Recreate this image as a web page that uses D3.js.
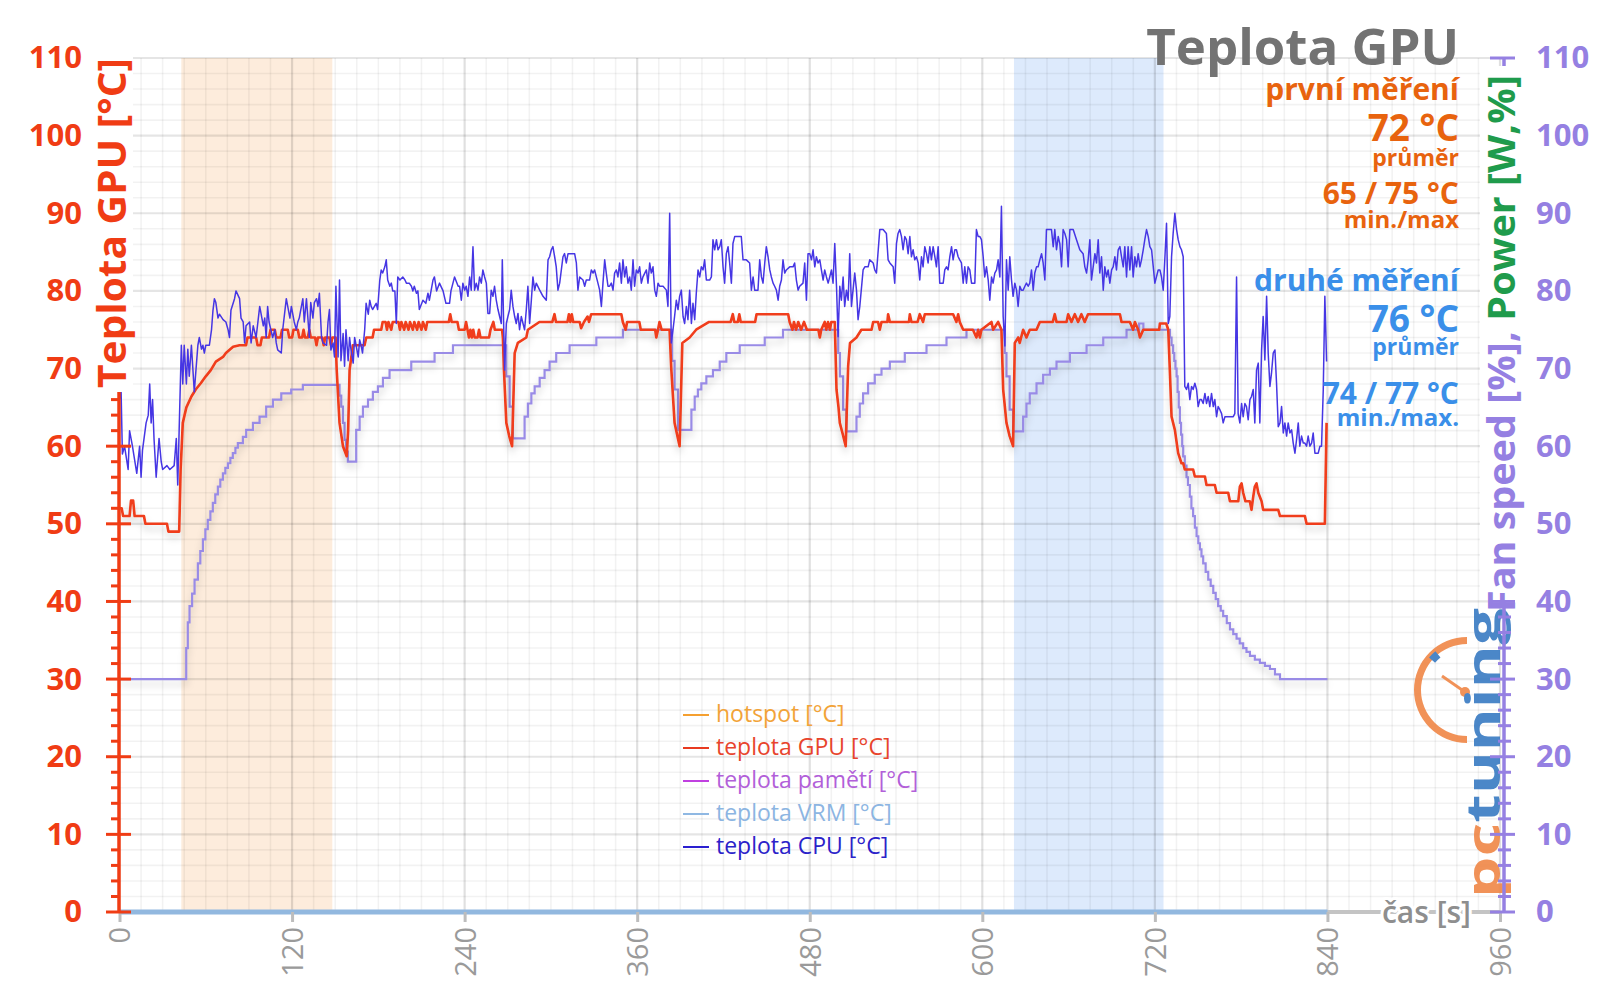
<!DOCTYPE html>
<html><head><meta charset="utf-8">
<script src="https://cdn.jsdelivr.net/npm/d3@7"></script>
<style>body{margin:0;background:#fff}svg{display:block}text{font-family:"Open Sans",sans-serif}</style>
</head><body><svg id="c" width="1600" height="1008"></svg>
<script>
// ---------- DATA ----------
const xTicks=[0,120,240,360,480,600,720,840,960];
const yTicks=[0,10,20,30,40,50,60,70,80,90,100,110];
const orangeBand=[43,148];
const blueBand=[622,726];
const legendLabels=["hotspot [°C]","teplota GPU [°C]","teplota pamětí [°C]","teplota VRM [°C]","teplota CPU [°C]"];
const titleText="Teplota GPU";
const firstRun=["první měření","72 °C","průměr","65 / 75 °C","min./max"];
const secondRun=["druhé měření","76 °C","průměr","74 / 77 °C","min./max."];
const leftAxisTitle="Teplota GPU [°C]";
const rightAxisTitleA="Fan speed [%], ";
const rightAxisTitleB="Power [W,%]";
const xAxisTitle="čas [s]";

const vrmSeries=[[0,0],[840,0]];

const gpuSeries=[[0,52],[1.5,52],[2.5,51],[7,51],[8,53],[9.5,53],[10.5,51],[17,51],[18,50],[33,50],[34,49],[41.5,49],[42.5,57],[44,63],[46.5,65],[50,66.4],[53,67.3],[56.5,68.1],[60,69],[63.5,69.8],[67,70.9],[72,71.5],[74,72],[79,72.8],[83.5,73],[88,73],[89,74],[95,74],[96,73],[98,73],[99,74],[104,74],[105,75],[108,75],[109,74],[112,74],[113,75],[117,75],[118,74],[120,74],[121,75],[124,75],[125,74],[127,74],[128,75],[129,74],[131,74],[132,75],[133,74],[136,74],[137,73],[138,74],[141,74],[142,73],[143,74],[146,74],[147,73],[148,74],[150.3,74],[151,70],[153,63],[155.4,60],[158,58.7],[159,62],[160,69.8],[162.3,73],[170.4,73],[171.6,74],[176,74],[177,75],[182,75],[183,76],[185,76],[186,75],[187,76],[189,75],[190,76],[194,76],[195,75],[196,76],[198,75],[199,76],[201,75],[202,76],[204,75],[205,76],[207,75],[208,76],[210,75],[211,76],[213,75],[214,76],[229,76],[230,77],[231,76],[235,76],[236,75],[240,75],[241,76],[242,75],[243,74],[244,75],[245,74],[246,75],[247,74],[249,74],[250,75],[251,74],[257,74],[258,75],[260,76],[261,75],[266,75],[266.6,74],[267.3,70],[269,63],[271,61.3],[273,60],[274.8,72],[277,73.3],[282.9,74],[284,75],[292,76],[301,76],[302.5,77],[303.5,76],[311.5,76],[312.5,77],[313.5,76],[314.5,77],[315.5,76],[320,76],[321,75.2],[323,76],[325.5,76.7],[326.5,76],[328,77],[349,77],[350,76],[352,75],[353,76],[361.5,76],[362.5,75],[372.5,75],[373.3,74],[374.5,75],[375.5,76],[377,75],[382.5,75],[383.7,70],[386,63],[389.5,60],[391.4,73.3],[396.5,74],[401,75],[410,76],[425,76],[426.5,77],[427.5,76],[430,76],[431,77],[432,76],[442,76],[443,77],[465,77],[466,76],[468,75],[469,76],[470.5,75],[472,76],[474,75],[476,76],[478,75],[486,75],[487,74],[488,75],[490.4,76],[491.5,75],[492.7,76],[494,75],[495,76],[497.4,76],[498.6,67.3],[500,65],[500.9,63],[503,61.5],[505,60],[506.7,70.3],[508,73.3],[512.5,74],[515.9,75],[523,75],[524.1,76],[527.5,76],[528.7,75],[529.9,76],[534,76],[534.5,77],[535.7,76],[549,76],[549.6,77],[550.7,76],[555,76],[556.5,77],[558.8,76],[560,77],[579.7,77],[582,76],[583.2,77],[584.3,76],[586.7,75],[593.5,75],[595.9,74],[597.1,75],[598.3,74],[599.4,75],[606.4,76],[607.5,75],[611,76],[613.3,75],[614.5,67.3],[616.8,63],[619,61.3],[621.4,60],[622.6,73.3],[625,74],[626,73.3],[628.4,75],[630.7,74],[633,75],[637.7,75],[640,76],[649,76],[650.4,77],[651.6,76],[658.6,76],[659.7,77],[662,76],[664.3,77],[666.6,76],[668.9,77],[671.2,76],[673.5,77],[677.1,77],[695.7,77],[696.8,76],[702.6,76],[704.9,75],[706.1,76],[708.4,75],[709.6,74],[711.9,75],[723,75],[723.5,75.8],[727.9,75.8],[729.3,75],[730.4,69.8],[731.6,63.8],[733.9,62.1],[736.2,59.1],[738.5,57.8],[739.7,57.8],[740.8,57],[746.6,57],[747.8,56.1],[754.8,56.1],[755.9,55],[761.7,55],[762.9,54],[771,54],[772.2,52.9],[778,52.9],[779.1,54.8],[780.3,55.2],[781.4,54],[783,52.9],[786,52.9],[787.2,51.8],[788.4,53.5],[789.5,54.8],[790.7,55.2],[791.9,54],[794.2,52.9],[795.3,51.8],[805.8,51.8],[807,51],[824.3,51],[825.5,50],[838.2,50],[839.4,63]];

const fanSeries=[[0,30],[45.2,30],[46.4,34],[47.5,37.3],[48.7,39.4],[50.5,41],[52.2,42.8],[54.5,44.9],[56.2,46.5],[58,48],[59.7,49.3],[61.4,50.5],[63.2,51.6],[64.9,52.7],[66.6,53.8],[68.4,54.8],[70.1,55.7],[71.9,56.5],[73.6,57.2],[75.4,57.8],[77.1,58.5],[78.8,59.1],[80.6,59.8],[82.3,60.4],[85.8,61.2],[88.1,62.1],[92.8,63],[97.4,63.8],[102,65.1],[106.7,66],[112.5,66.8],[119.4,67.3],[127.5,67.9],[151.9,67.9],[153,66.5],[154.2,65.1],[155.4,63],[156.5,60.8],[157.6,59.3],[158.8,58],[164.6,62.1],[167,63.8],[169.3,65.1],[172.8,66],[176.2,67],[179.7,67.7],[183.2,68.8],[187.8,69.8],[202.9,70.9],[219.1,72],[231.9,73],[266.6,73],[268.9,69],[271.3,65.1],[273.6,61],[281.7,63.8],[284,65.5],[286.4,66.8],[288.7,67.7],[292.2,68.8],[295.6,69.8],[299.1,70.9],[303.7,72],[313,73],[331.6,74],[350.1,75],[382.6,75],[384.3,71],[386,67.3],[388.4,62.1],[397.7,64.7],[400,66.4],[402.2,67.3],[404.6,68.1],[408.1,69],[412.7,69.8],[417.4,70.9],[422,72],[431.3,73],[448.7,74],[461.4,75],[498.6,75],[499.8,72],[501,69],[503.2,64.7],[505.5,61.9],[512.5,63.8],[514.8,65.5],[517.1,66.8],[520.6,68.1],[525.2,69.2],[529.9,70],[535.7,70.9],[546.1,72],[561.2,73],[575.1,74],[589,75],[614.5,75],[615.6,72],[616.8,69],[619,64.7],[621.4,61.9],[628.4,63.8],[630.7,65.5],[633,66.8],[637.7,68.1],[642.3,69.2],[647,70],[651.6,70.9],[660.9,72],[672.5,73],[684.1,74],[700.3,75],[709,75.8],[712,75],[729.3,75],[730.5,74],[731.6,73],[732.7,72],[733.5,71],[734.3,70],[735.1,69],[735.8,67],[736.6,65],[737.4,63],[738.2,61.5],[739,60],[739.7,58.7],[740.8,57.5],[742,56],[743,55],[744.3,53.5],[745.4,52],[746.6,51],[747.8,49.5],[749,48.4],[750.2,47.5],[751.3,46.7],[752.4,45.8],[753.6,44.9],[755.3,43.8],[757.1,42.8],[758.8,42],[760.6,41.1],[762.3,40.3],[764,39.4],[765.8,38.8],[767.5,38.1],[770,37.2],[772.2,36.4],[774.5,35.8],[776.8,35.2],[779,34.6],[781.4,34],[783.7,33.5],[786.1,33],[789.5,32.5],[793,32.1],[796.5,31.7],[800,31.3],[803.5,30.6],[807,30],[840,30]];

const cpuSeries=[[0,66],[1,68],[2,59],[3.5,60],[6,57],[7,62],[9,60],[12,56.5],[14,60],[15,56],[16,59.5],[18.5,63],[20,64],[21,68],[22,63],[23,66],[24,61],[25.5,56],[27.5,61],[29,58],[30,57],[33,57.5],[35,57],[38,57.5],[39.5,61],[40.5,55],[43,73],[44,68],[45,73],[46.5,68],[47.5,72.5],[48.5,69],[50,73],[52,67],[54.5,73],[55.5,74],[57,72.5],[58,73],[59,72],[60,73],[62.5,73],[64,75],[65,77.5],[66,79],[67,78.5],[68.5,76.5],[69.5,77],[72,76.3],[74,76],[75.5,75],[76.5,74],[77.5,77.5],[80,79],[81,80],[83.5,79],[84.5,76.5],[86,76],[87,73.3],[88,75.5],[90.5,76],[91.5,73.3],[93,75.5],[95,74],[97.5,78],[98.5,77],[100,75.5],[101,76.5],[102,74],[103,78],[104,76],[106.5,74],[108,75],[109,73.3],[110,72.4],[112.5,72],[113.5,75],[116,79],[118.5,76.5],[119.5,78],[121.5,76],[123,75],[124,76],[125,76.5],[126.5,78],[127.5,79],[128.5,76],[130,79],[132,74],[133,78.5],[134.5,76.5],[135.5,78.5],[137,79],[138,78],[139,79.7],[140.5,74],[141.5,73.3],[144,73],[145,76],[146,77.6],[147,72.4],[148.5,73.3],[149.5,71.5],[150.5,80.6],[152,71.5],[153,81.4],[154,71],[155.5,74.5],[156.5,70.3],[157.5,75],[159,71],[160,74],[161,72.4],[162.5,70.7],[163.5,74],[164.5,73],[166,71.5],[167,73.7],[168,73],[169,72],[170.5,75],[171.5,78.4],[173,77],[174,78.8],[175,78],[176,77.6],[178.5,78.4],[179.5,77.6],[181,81.4],[182,82.7],[183,82.3],[184.5,83.1],[185.5,84],[186.5,81.4],[188,80.6],[189,81],[190,80],[191.5,80],[192.5,75.8],[193.5,81.8],[195,81.4],[197,81.8],[198.5,81.4],[199.5,81],[201.5,81],[203,80.6],[204,80],[205,80.6],[206.5,79.7],[207.5,80],[208.5,77.6],[211,78.8],[213,78.4],[214.5,79.7],[215.5,78.8],[218,81.4],[219,81.8],[220.5,80],[222.5,81],[225,80],[227,78.4],[229.5,78.4],[230.5,80],[233,81.8],[235.5,80.6],
[236.5,80.6],[237.7,78.8],[238.8,81],[240,80.1],[241.1,80.6],[242.3,79.3],[243.5,81.8],[244.6,80.1],[245.8,85.7],[246.9,80.1],[248.1,81],[249.3,80.1],[250.4,81.8],[251.6,81],[252.7,82.7],[253.9,81.8],[255.1,81],[256.2,77.1],[257.4,77.1],[258.5,80.1],[259.7,79.3],[260.8,80.6],[262,78.8],[263.2,77.6],[265.5,75.8],[266.2,84],[267.8,69.8],[269,75.8],[270.1,76.7],[271.3,77.6],[272.4,80.1],[273.6,78],[274.8,76.7],[275.9,75.8],[277.1,77.1],[278.2,75],[279.4,76.7],[280.6,75.8],[281.7,75],[282.9,77.6],[284,80.6],[285.2,75.8],[286.4,78.8],[287.5,81.8],[288.7,80.1],[289.8,81],[292.2,80.1],[294.5,79.3],[296.8,78.8],[298,84],[299.1,84.4],[300.3,85.3],[301.4,85.7],[302.6,84.4],[303.7,83.1],[304.9,80.1],[306.1,81],[308.4,84.4],[309.5,84.8],[310.7,83.6],[311.9,84.8],[316.5,84.8],[317.7,83.6],[318.8,80.1],[320,81.8],[322.3,81.4],[323.5,80.6],[324.6,81.4],[326.9,81.4],[328.1,82.7],[329.3,82.3],[330.4,82.7],[331.6,81.8],[332.7,81],[333.9,80.1],[335.1,78],[336.2,81],[337.4,84],[338.5,82.3],[339.7,80.6],[340.8,80.6],[342,81],[343.2,80.1],[344.3,82.3],[345.5,82.7],[346.6,81.8],[347.8,83.6],[349,81],[350.1,84],[351.3,81.8],[352.4,83.1],[353.6,81],[354.8,81.8],[355.9,80.1],[357.1,84],[358.2,80.6],[359.4,82.7],[360.6,82.3],[361.7,83.1],[362.9,81],[364,81.8],[366.4,82.7],[367.5,81],[368.7,83.6],[369.8,82.3],[371,83.1],[372.2,80.1],[373.3,79.3],[374.5,81],[375.6,80.6],[378,80.6],[380.3,80.1],[381.4,78],[382.6,90],[383.7,73.3],[384.9,75],[386,76.7],[387.2,78.8],[388.4,77.6],[389.5,79.3],[390.7,80.1],[391.9,76.7],[393,75.8],[394.2,78],[395.3,76.3],[396.5,80.1],[397.7,75.8],[398.8,78.4],[400,76.3],[401.1,79.7],[402.3,82.7],[403.5,81.8],[404.6,83.1],[405.8,82.7],[406.9,84],[408.1,81.4],[410.4,81.4],[411.6,81.8],[412.7,86.6],[413.9,85.3],[415.1,86.6],[416.2,85.3],[417.4,85.7],[418.5,86.6],[419.7,83.1],[420.8,81],[422,84.8],[423.2,85.7],[424.3,83.6],[425.5,81],[426.6,86.1],[427.8,87],[432.4,87],[433.6,84],[435.9,84],[438.2,83.6],[439.4,80.1],[440.6,81.8],[441.7,80.1],[444,80.1],[445.2,84],[446.4,81.8],[447.5,81],[448.7,83.6],[449.8,85.7],[451,84.4],[452.2,82.7],[453.3,81.8],[454.5,81],[455.6,80.6],[456.8,80.1],[458,78.8],[459.1,80.6],[460.3,81.4],[461.4,84],[462.6,82.3],[463.7,82.7],[466.1,83.1],[468.4,83.1],[469.5,83.6],[470.7,81.4],[471.9,80.1],[473,80.6],[475.3,81],[476.5,83.6],[477.7,78.8],[478.8,84.8],
[480,84.8],[481.2,84],[482.3,85.3],[483.5,83.1],[484.6,84.4],[485.8,83.6],[487,84],[488.1,82.7],[489.3,81.4],[490.4,82.7],[491.6,81.8],[492.8,81],[493.9,81.8],[495.1,82.7],[496.2,81],[497.4,86.1],[498.6,80.6],[499.7,74.1],[500.9,80.6],[502,78.8],[503.2,81.8],[504.3,78],[505.5,80.1],[506.7,78.8],[507.8,84.8],[509,78],[510.1,80.1],[511.3,82.3],[512.5,80.1],[513.6,76.3],[514.8,78],[517.1,82.7],[518.3,83.1],[520.6,83.1],[521.7,84],[524.1,83.6],[525.2,82.7],[526.4,82.3],[528.7,87.9],[531,87.9],[533.3,87.4],[534.5,84],[535.7,83.6],[538,83.1],[539.1,81],[540.3,86.1],[541.4,87.4],[542.6,87.9],[543.8,87],[544.9,85.3],[546.1,87],[547.2,86.6],[548.4,84.8],[549.6,87],[550.7,84.4],[551.9,85.3],[553,84],[554.2,84.4],[555.4,83.6],[556.5,81.4],[557.7,84.4],[558.8,83.1],[560,85.7],[561.2,84.8],[562.3,83.6],[563.5,85.7],[564.6,84],[565.8,85.7],[567,84.4],[568.1,83.1],[569.3,85.7],[570.4,81],[572.8,81],[573.9,82.7],[575.1,83.1],[576.2,82.7],[577.4,84.4],[578.6,85.7],[579.7,84],[580.9,85.3],[582,85.3],[583.2,84.4],[584.3,84],[585.5,83.6],[586.7,81],[587.8,83.1],[589,81],[590.1,83.1],[591.3,82.7],[592.5,81],[594.8,81],[595.9,87.9],[597.1,87],[598.3,87],[599.4,86.6],[600.6,84.4],[601.7,81.8],[602.9,83.1],[604.1,81.4],[605.2,78.8],[606.4,81.8],[607.5,81],[608.7,82.3],[609.9,82.7],[611,84],[612.2,81.8],[613.3,90.9],[614.5,76.7],[615.7,72.9],[616.8,84],[618,80.1],[619.1,84.4],[620.3,81.4],[621.4,79.3],[622.6,81],[623.8,80.1],[624.9,78],[626.1,80.6],[627.2,80.1],[628.4,80.1],[629.6,80.6],[630.7,81],[631.9,80.6],[633,81],[634.2,82.7],[635.4,80.1],[636.5,82.3],[637.7,83.1],[638.8,83.1],[640,84],[641.2,84.8],[642.3,83.6],[643.5,81.4],[644.6,87.9],[645.8,87.9],[648.1,87.9],[649.3,85.7],[650.4,87.9],[651.6,85.3],[652.8,87],[653.9,86.1],[655.1,83.1],[656.2,87.9],[657.4,87.4],[658.6,86.6],[659.7,83.1],[660.9,87.9],[663.2,87.9],[665.5,86.6],[667.8,85.3],[670.1,84.8],[671.3,83.1],[672.5,82.3],[673.6,84],[674.8,86.6],[675.9,81.4],[677.1,83.1],[678.3,84.8],[679.4,83.6],[680.6,86.6],[681.7,82.3],[682.9,84.4],[684.1,80.1],[685.2,83.1],[686.4,81.8],[687.5,82.7],[688.7,81],[689.9,82.7],[691,83.1],[692.2,84.4],[693.3,82.7],[694.5,85.3],[695.7,85.7],[696.8,84.4],[698,83.1],[699.1,85.7],[700.3,81.8],[701.4,85.7],[702.6,82.7],[703.8,85.7],[704.9,81.8],[706.1,84.4],[707.2,83.1],[708.4,84.8],[709.6,83.1],[710.7,84],[711.9,85.3],[713,86.6],[714.2,87.9],[715.4,87],
[716.5,85.7],[717.7,85.3],[720,81],[721.1,81.8],[722.3,82.7],[723.5,82.7],[724.6,81.8],[725.8,80.1],[726.9,84],[728.1,88.7],[729.3,75.8],[730.4,76.7],[731.6,84.4],[732.7,87.4],[733.9,90],[735.1,87.9],[736.2,86.6],[737.4,85.7],[738.5,85.3],[739.7,84.4],[740.8,67.7],[742,67.3],[743.2,68.1],[744.3,66],[745.5,67.7],[746.6,67.3],[747.8,68.1],[749,67.3],[750.1,65.1],[751.3,66],[752.4,66],[753.6,65.5],[754.8,66.8],[755.9,65.5],[757.1,66.4],[758.2,65.1],[759.4,66.8],[760.6,65.1],[761.7,66],[762.9,63.8],[764,65.1],[765.2,64.7],[766.4,64.2],[767.5,63],[768.7,63.8],[769.8,63.8],[774.5,63.8],[775.6,64.2],[776.8,81.8],[777.9,64.2],[779.1,63],[780.3,65.5],[781.4,63.8],[782.6,65.5],[783.7,65.1],[784.9,63.4],[786.1,66],[787.2,66.4],[788.4,67.3],[789.5,63],[790.7,69.8],[791.9,70.7],[793,63],[794.2,72.4],[795.3,76.7],[796.5,71.1],[797.7,79.3],[798.8,72],[800,67.7],[801.1,69.4],[802.3,72],[803.5,72.4],[804.6,68.1],[805.8,62.5],[807,63],[808.1,65.1],[809.3,61.7],[810.4,63],[811.6,61.3],[812.7,63],[813.9,61.7],[815.1,62.1],[816.2,60.4],[817.4,59.1],[818.5,60.8],[819.7,63],[820.8,60],[822,61.3],[823.2,60.4],[824.3,60.4],[825.5,60],[826.6,61.3],[827.8,60],[829,60.4],[830.1,61.7],[831.3,59.1],[832.4,59.1],[833.6,59.1],[834.8,60],[835.9,60],[837.1,67.3],[838.2,79.3],[839.4,70.9]];

// ---------- LAYOUT ----------
const W=1600,H=1008;
const svg=d3.select("#c");
svg.append("rect").attr("width",W).attr("height",H).attr("fill","#fff");
const x=d3.scaleLinear().domain([0,960]).range([119.5,1500]);
const y=d3.scaleLinear().domain([0,110]).range([912,58]);

const defs=svg.append("defs");
const f=defs.append("filter").attr("id","sh").attr("x","-5%").attr("y","-10%").attr("width","110%").attr("height","130%");
f.append("feDropShadow").attr("dx",0).attr("dy",5).attr("stdDeviation",3.5).attr("flood-color","#000").attr("flood-opacity",0.18);

// bands
const bandG=svg.append("g");
bandG.append("rect").attr("x",x(orangeBand[0])).attr("width",x(orangeBand[1])-x(orangeBand[0]))
  .attr("y",y(110)).attr("height",y(0)-y(110)).attr("fill","#fdecdc");
bandG.append("rect").attr("x",x(blueBand[0])).attr("width",x(blueBand[1])-x(blueBand[0]))
  .attr("y",y(110)).attr("height",y(0)-y(110)).attr("fill","#ddeafc");

// grid
const grid=svg.append("g");
grid.selectAll(".vx").data(d3.range(0,961,15)).join("line")
  .attr("x1",d=>x(d)).attr("x2",d=>x(d)).attr("y1",y(110)).attr("y2",y(0))
  .attr("stroke",d=>d%120===0?"rgba(0,0,0,0.12)":"rgba(0,0,0,0.05)")
  .attr("stroke-width",d=>d%120===0?2.2:1.6);
grid.selectAll(".hy").data(d3.range(0,111,2)).join("line")
  .attr("x1",x(0)).attr("x2",x(960)).attr("y1",d=>y(d)).attr("y2",d=>y(d))
  .attr("stroke",d=>d%10===0?"rgba(0,0,0,0.10)":"rgba(0,0,0,0.05)")
  .attr("stroke-width",d=>d%10===0?2.2:1.6);

// logo
const logo=svg.append("g").attr("opacity",0.92);
const lc=[1467,690];
logo.append("path").attr("transform",`translate(${lc[0]},${lc[1]})`)
  .attr("d",d3.arc()({innerRadius:46,outerRadius:53,startAngle:Math.PI,endAngle:2*Math.PI}))
  .attr("fill","#f0894a");
logo.append("path").attr("transform",`translate(${lc[0]},${lc[1]})`)
  .attr("d",d3.arc()({innerRadius:42,outerRadius:50,startAngle:5.42,endAngle:5.6}))
  .attr("fill","#3c7dc4");
logo.append("line").attr("x1",lc[0]-25).attr("y1",lc[1]-14).attr("x2",lc[0]-2).attr("y2",lc[1]+2)
  .attr("stroke","#f0894a").attr("stroke-width",3);
logo.append("circle").attr("cx",lc[0]-2).attr("cy",lc[1]+2).attr("r",5).attr("fill","#f0894a");
const lt=logo.append("text").attr("transform","translate(1500,898) rotate(-90)")
  .attr("font-family","DejaVu Sans").attr("font-weight","bold").attr("font-size",46)
  .attr("textLength",290).attr("lengthAdjust","spacingAndGlyphs");
lt.append("tspan").text("pc").attr("fill","#f0894a");
lt.append("tspan").text("tuning").attr("fill","#3c7dc4");

// lines
const line=d3.line().x(d=>x(d[0])).y(d=>y(d[1]));
const stepLine=d3.line().x(d=>x(d[0])).y(d=>y(d[1])).curve(d3.curveStepAfter);

svg.append("line").attr("x1",x(0)).attr("x2",x(960)).attr("y1",y(0)).attr("y2",y(0))
  .attr("stroke","#c4c4c4").attr("stroke-width",4);
svg.append("path").datum(vrmSeries).attr("d",line).attr("fill","none")
  .attr("stroke","#92b8df").attr("stroke-width",5);

svg.append("path").datum(fanSeries).attr("d",stepLine).attr("fill","none")
  .attr("stroke","#998be6").attr("stroke-width",2.2).attr("filter","url(#sh)");
svg.append("path").datum(gpuSeries).attr("d",line).attr("fill","none")
  .attr("stroke","#f03c1a").attr("stroke-width",2.6).attr("stroke-linejoin","round").attr("filter","url(#sh)");
svg.append("path").datum(cpuSeries).attr("d",line).attr("fill","none")
  .attr("stroke","#4636e4").attr("stroke-width",1.5).attr("stroke-linejoin","round");

// x axis ticks + labels
const xa=svg.append("g").attr("transform",`translate(0,${y(0)})`)
  .call(d3.axisBottom(x).tickValues(xTicks).tickSize(10).tickFormat(d3.format("d")));
xa.select(".domain").remove();
xa.selectAll(".tick line").attr("stroke","#bdbdbd").attr("stroke-width",3);
xa.selectAll(".tick text").attr("transform","rotate(-90)").attr("x",-15).attr("y",0).attr("dy","0.36em")
  .style("text-anchor","end").attr("fill","#9a9a9a").attr("font-size",29).attr("font-family","Open Sans");

// left axis
const redC="#f03c14";
const la=svg.append("g").attr("transform",`translate(119,0)`)
  .call(d3.axisLeft(y).tickValues(yTicks).tickSize(0).tickPadding(37));
la.select(".domain").remove();
la.selectAll(".tick text").attr("fill",redC).attr("font-size",31).attr("font-weight",700).attr("font-family","Open Sans");
const lticks=svg.append("g");
lticks.append("line").attr("x1",119).attr("x2",119).attr("y1",y(0)).attr("y2",y(110)).attr("stroke",redC).attr("stroke-width",3.5);
lticks.selectAll(".t").data(d3.range(0,111,2)).join("line")
  .attr("x1",d=>d%10===0?106:111).attr("x2",d=>d%10===0?131:120)
  .attr("y1",d=>y(d)).attr("y2",d=>y(d)).attr("stroke",redC).attr("stroke-width",3);

// right axis
const purC="#9580e2";
const ra=svg.append("g").attr("transform",`translate(1503,0)`)
  .call(d3.axisRight(y).tickValues(yTicks).tickSize(0).tickPadding(33));
ra.select(".domain").remove();
ra.selectAll(".tick text").attr("fill",purC).attr("font-size",31).attr("font-weight",700).attr("font-family","Open Sans");
const rticks=svg.append("g");
rticks.append("line").attr("x1",1504).attr("x2",1504).attr("y1",y(0)).attr("y2",y(110)).attr("stroke",purC).attr("stroke-width",3.5);
rticks.selectAll(".t").data(d3.range(0,111,2)).join("line")
  .attr("x1",d=>d%10===0?1490:1498).attr("x2",d=>d%10===0?1515:1511)
  .attr("y1",d=>y(d)).attr("y2",d=>y(d)).attr("stroke",purC).attr("stroke-width",3);

// white backing behind the vertical axis titles (hides axis + grid there, as in reference)
svg.append("rect").attr("x",94).attr("y",52).attr("width",39).attr("height",340).attr("fill","#fff");
svg.append("rect").attr("x",1480).attr("y",66).attr("width",42).attr("height",534).attr("fill","#fff");

function halo(sel,w){return sel.attr("stroke","#fff").attr("stroke-width",w).attr("stroke-linejoin","round").style("paint-order","stroke");}
svg.append("text").attr("transform","translate(126,388) rotate(-90)")
  .attr("font-size",40).attr("font-weight",700).attr("fill",redC)
  .attr("textLength",330).attr("lengthAdjust","spacingAndGlyphs").text(leftAxisTitle);
const rt=svg.append("text").attr("transform","translate(1515,612) rotate(-90)")
  .attr("font-size",38).attr("font-weight",700)
  .attr("textLength",537).attr("lengthAdjust","spacingAndGlyphs");
rt.append("tspan").attr("fill",purC).text(rightAxisTitleA);
rt.append("tspan").attr("fill","#1f9b4c").text(rightAxisTitleB);
halo(svg.append("text").attr("x",1471).attr("y",923).attr("text-anchor","end")
  .attr("font-size",30).attr("font-weight",600).attr("fill","#8e8e8e").text(xAxisTitle),6);

// legend
const legColors=["#f2a338","#e8442c","#b25fd9","#8cb5e2","#2b22c9"];
const legLine=["#f5a030","#e83a20","#c040e0","#8fb8e3","#2a1fd0"];
const lg=svg.append("g");
legendLabels.forEach((t,i)=>{
  const by=722+i*33;
  lg.append("line").attr("x1",683).attr("x2",709).attr("y1",by-7).attr("y2",by-7).attr("stroke",legLine[i]).attr("stroke-width",2);
  lg.append("text").attr("x",716).attr("y",by).attr("font-size",23).attr("fill",legColors[i]).text(t);
});

// title + stats
const tx=1459;
svg.append("text").attr("x",tx).attr("y",65).attr("text-anchor","end").attr("font-size",51).attr("font-weight",700).attr("fill","#737373").text(titleText);
const statY1=[100,141,166,204,228], statY2=[291,332,355,404,426];
const statSz=[30,37,23,30,24];
const orangeC="#e8630e", blueC="#3a8fe9";
firstRun.forEach((t,i)=>svg.append("text").attr("x",tx).attr("y",statY1[i]).attr("text-anchor","end")
  .attr("font-size",statSz[i]).attr("font-weight",700).attr("fill",orangeC).text(t));
secondRun.forEach((t,i)=>svg.append("text").attr("x",tx).attr("y",statY2[i]).attr("text-anchor","end")
  .attr("font-size",statSz[i]).attr("font-weight",700).attr("fill",blueC).text(t));
</script></body></html>
